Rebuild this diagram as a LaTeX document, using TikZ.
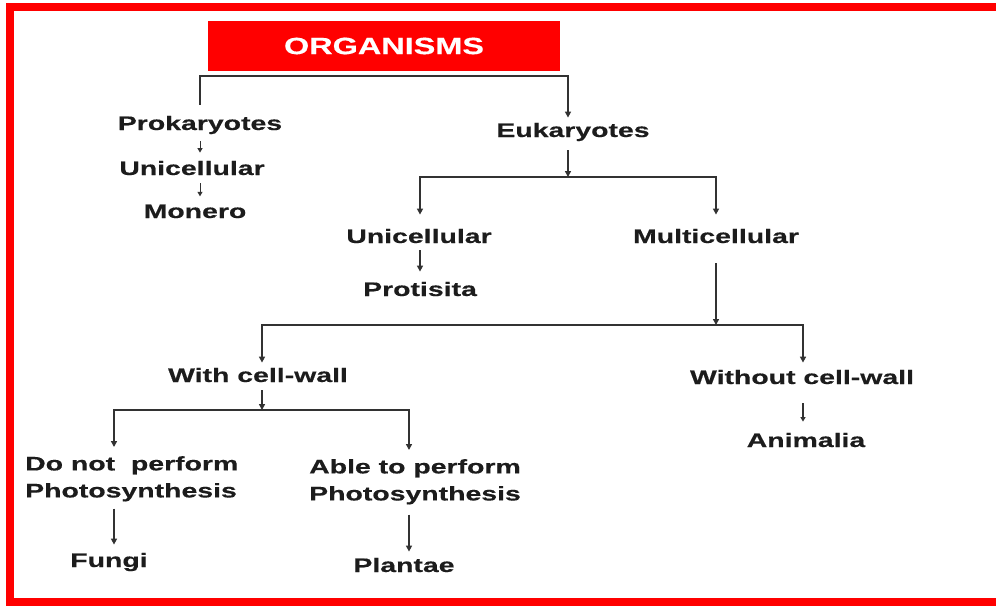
\documentclass[tikz,border=0pt]{standalone}
\usepackage{fontspec}
\setmainfont{Liberation Sans}[FakeStretch=1.45, BoldFeatures={FakeBold=0.4}]
\newfontfamily\titlefont{Liberation Sans}[FakeStretch=1.38, BoldFeatures={FakeBold=0.4}]
\usetikzlibrary{arrows.meta}
\definecolor{framered}{RGB}{255,0,0}
\definecolor{ink}{RGB}{28,28,28}
\definecolor{wirec}{RGB}{50,50,50}
\begin{document}
\begin{tikzpicture}[x=1pt,y=-1pt,
  lbl/.style={font=\bfseries\fontsize{19.6}{27}\selectfont, text=ink, inner sep=3pt, anchor=base},
  lbl2/.style={font=\bfseries\fontsize{19.6}{27}\selectfont, text=ink, inner sep=3pt, anchor=north west, align=left},
  titlebox/.style={fill=framered, text=white, font=\titlefont\bfseries\fontsize{23.5}{26}\selectfont,
     minimum width=352pt, minimum height=50pt, inner sep=0pt},
  wire/.style={draw=wirec, line width=1.6pt},
  arr/.style={wire, -{Triangle[length=6pt,width=6pt]}},
  thinarr/.style={draw=wirec, line width=1pt, -{Triangle[length=4.5pt,width=5pt]}}]
\useasboundingbox (0,0) rectangle (996,610);
\clip (0,0) rectangle (996,610);
\fill[white] (0,0) rectangle (996,610);
\draw[framered, line width=8pt] (10,7.5) rectangle (1012,601.5);

% nodes
\node[titlebox] (org) at (384,46) {ORGANISMS\hspace{16pt}};
\node[lbl] (prok) at (200,130) {Prokaryotes};
\node[lbl] (uni1) at (192,175) {Unicellular};
\node[lbl] (mon) at (195,218) {Monero};
\node[lbl] (euk) at (573,137) {Eukaryotes};
\node[lbl] (uni2) at (419,243) {Unicellular};
\node[lbl] (prot) at (420,296) {Protisita};
\node[lbl] (multi) at (716,243) {Multicellular};
\node[lbl] (with) at (258,382) {With cell-wall};
\node[lbl] (without) at (802,384) {Without cell-wall};
\node[lbl] (anim) at (806,447) {Animalia};
\node[lbl2] (donot) at (22,453) {Do not~ perform\\Photosynthesis};
\node[lbl2] (able) at (306,456) {Able to perform\\Photosynthesis};
\node[lbl] (fungi) at (109,567) {Fungi};
\node[lbl] (plant) at (404,572) {Plantae};

% junctions and leg positions
\coordinate (j1) at (384,76);
\coordinate (e1) at (568,0);
\coordinate (j2) at (568,177);
\coordinate (u2) at (420,0);
\coordinate (j3) at (716,325);
\coordinate (w1) at (262,0);
\coordinate (wo1) at (803,0);
\coordinate (j4) at (262,410);
\coordinate (fl) at (114,0);
\coordinate (pl) at (409,0);

% connectors
\draw[arr, shorten >=2pt] ([yshift=8pt]prok.north) |- (j1) -| (euk.north -| e1);
\draw[thinarr, shorten <=4pt, shorten >=5pt] (prok.south) -- (prok.south |- uni1.north);
\draw[thinarr, shorten <=5pt, shorten >=5pt] (prok.south |- uni1.south) -- (prok.south |- mon.north);

\draw[arr, shorten <=6pt] (euk.south -| j2) -- (j2);
\draw[arr, shorten >=11pt] (j2) -| (uni2.north -| u2);
\draw[arr, shorten >=11pt] (j2) -| (multi.north);
\draw[arr, shorten <=4pt, shorten >=7pt] (uni2.south -| u2) -- (prot.north -| u2);

\draw[arr, shorten <=17pt] (multi.south) -- (j3);
\draw[arr, shorten >=2pt] (j3) -| (with.north -| w1);
\draw[arr, shorten >=4pt] (j3) -| (without.north -| wo1);
\draw[thinarr, line width=1.3pt, shorten <=16pt, shorten >=8pt] (without.south -| wo1) -- (anim.north -| wo1);

\draw[arr, shorten <=5pt] (with.south -| w1) -- (j4);
\draw[arr, shorten >=6pt] (j4) -| (donot.north -| fl);
\draw[arr, shorten >=6pt] (j4) -| (able.north -| pl);
\draw[arr, shorten <=4pt, shorten >=5pt] (donot.south -| fl) -- (fungi.north -| fl);
\draw[arr, shorten <=7pt, shorten >=3pt] (able.south -| pl) -- (plant.north -| pl);
\end{tikzpicture}
\end{document}
